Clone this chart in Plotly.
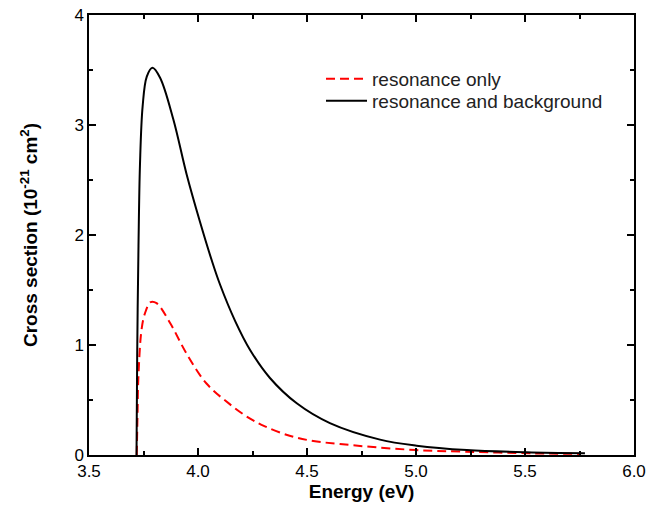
import plotly.graph_objects as go

# Data
energy_total = [3.718, 3.721, 3.727, 3.734, 3.746, 3.765, 3.791, 3.826, 3.887, 3.948, 4.009,
                4.063, 4.101, 4.170, 4.239, 4.330, 4.453, 4.605, 4.835, 5.003, 5.233, 5.508, 5.775]
sigma_total = [0.0, 0.90, 1.90, 2.65, 3.17, 3.44, 3.52, 3.43, 3.05, 2.55, 2.12,
               1.77, 1.55, 1.22, 0.955, 0.70, 0.47, 0.29, 0.14, 0.085, 0.045, 0.024, 0.015]

energy_res = [3.719, 3.723, 3.726, 3.741, 3.757, 3.783, 3.810, 3.872, 3.948, 4.039, 4.147,
              4.239, 4.307, 4.420, 4.529, 4.651, 4.804, 5.000, 5.230, 5.540, 5.750]
sigma_res = [0.0, 0.40, 0.68, 1.14, 1.29, 1.39, 1.38, 1.20, 0.92, 0.65, 0.46,
             0.33, 0.26, 0.175, 0.127, 0.100, 0.072, 0.045, 0.03, 0.015, 0.01]

x_ticks = [3.5, 4.0, 4.5, 5.0, 5.5, 6.0]
x_tick_labels = ["3.5", "4.0", "4.5", "5.0", "5.5", "6.0"]
y_ticks = [0, 1, 2, 3, 4]
y_tick_labels = ["0", "1", "2", "3", "4"]

FONT = "Liberation Sans, Arial, Helvetica, sans-serif"

fig = go.Figure()
fig.add_trace(go.Scatter(x=energy_res, y=sigma_res, mode="lines", name="resonance only", legend="legend",
                         line=dict(color="#ff0000", width=2, dash="9px,5px", shape="spline", smoothing=1.0)))
fig.add_trace(go.Scatter(x=energy_total, y=sigma_total, mode="lines", name="resonance and background",
                         legend="legend2",
                         line=dict(color="#000000", width=2, shape="spline", smoothing=1.0)))

axis_common = dict(
    showline=True, linecolor="black", linewidth=1.5, mirror="ticks",
    ticks="inside", ticklen=7, tickwidth=1.5, tickcolor="black",
    showgrid=False, zeroline=False, automargin=False, ticklabeloverflow="allow",
    tickfont=dict(family=FONT, size=17, color="black"),
)

fig.update_xaxes(range=[3.5, 6.0], tickvals=x_ticks, ticktext=x_tick_labels,
                 minor=dict(ticks="inside", ticklen=4, tickwidth=1.5, tickcolor="black", dtick=0.25, showgrid=False),
                 title=dict(text="<b>Energy (eV)</b>", font=dict(family=FONT, size=19, color="black"), standoff=0),
                 **axis_common)
fig.update_yaxes(range=[0, 4], tickvals=y_ticks, ticktext=y_tick_labels,
                 minor=dict(ticks="inside", ticklen=4, tickwidth=1.5, tickcolor="black", dtick=0.5, showgrid=False),
                 title=dict(text="<b>Cross section (10<sup>-21</sup> cm<sup>2</sup>)</b>",
                            font=dict(family=FONT, size=19, color="black"), standoff=32),
                 **axis_common)

legend_common = dict(xanchor="left", yanchor="top", bgcolor="rgba(0,0,0,0)",
                     font=dict(family=FONT, size=19, color="#222"), itemwidth=41)

fig.update_layout(
    width=667, height=508,
    margin=dict(l=81, r=41, t=7, b=61),
    plot_bgcolor="white", paper_bgcolor="white",
    font=dict(family=FONT, size=17, color="black"),
    showlegend=True,
    legend=dict(x=0.4257, y=0.8977, **legend_common),
    legend2=dict(x=0.4257, y=0.8477, **legend_common),
)

fig.write_html("out.html")
